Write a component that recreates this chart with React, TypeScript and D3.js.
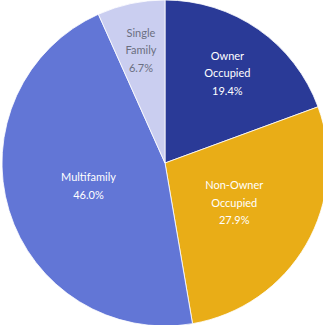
import React from "react";
import * as d3 from "d3";

const categories = ["Owner Occupied", "Non-Owner Occupied", "Multifamily", "Single Family"];
const labelLines = [["Owner", "Occupied"], ["Non-Owner", "Occupied"], ["Multifamily"], ["Single", "Family"]];
const values = [19.4, 27.9, 46.0, 6.7];
const colors = ["#2a3a97", "#e9ad17", "#6276d6", "#cacef0"];
const textColors = ["#ffffff", "#ffffff", "#ffffff", "#6b6f80"];
const labelRadius = [109, 80, 80, 115];

const W = 323, H = 325;
const cx = 165, cy = 163, R = 163;

export default function App() {
  const pie = d3.pie<number>().sort(null).value((d) => d);
  const arcs = pie(values);
  const arc = d3.arc<d3.PieArcDatum<number>>().innerRadius(0).outerRadius(R);
  const lh = 17.5;
  return (
    <svg width={W} height={H} style={{ position: "absolute", left: 0, top: 0 }}>
      <rect width={W} height={H} fill="#ffffff" />
      <g transform={`translate(${cx},${cy})`}>
        {arcs.map((a, i) => (
          <path key={categories[i]} d={arc(a) || ""} fill={colors[i]} stroke="#ffffff" strokeWidth={0.8} />
        ))}
        {arcs.map((a, i) => {
          const mid = (a.startAngle + a.endAngle) / 2;
          const r = labelRadius[i];
          const x = Math.sin(mid) * r;
          const y = -Math.cos(mid) * r;
          const lines = [...labelLines[i], `${values[i].toFixed(1)}%`];
          const y0 = y - ((lines.length - 1) * lh) / 2;
          return (
            <text key={"t" + i} textAnchor="middle" fill={textColors[i]}
              fontFamily="Lato, 'Open Sans', sans-serif" fontSize={11}>
              {lines.map((l, j) => (
                <tspan key={j} x={x} y={y0 + j * lh} dy="0.35em">{l}</tspan>
              ))}
            </text>
          );
        })}
      </g>
    </svg>
  );
}
